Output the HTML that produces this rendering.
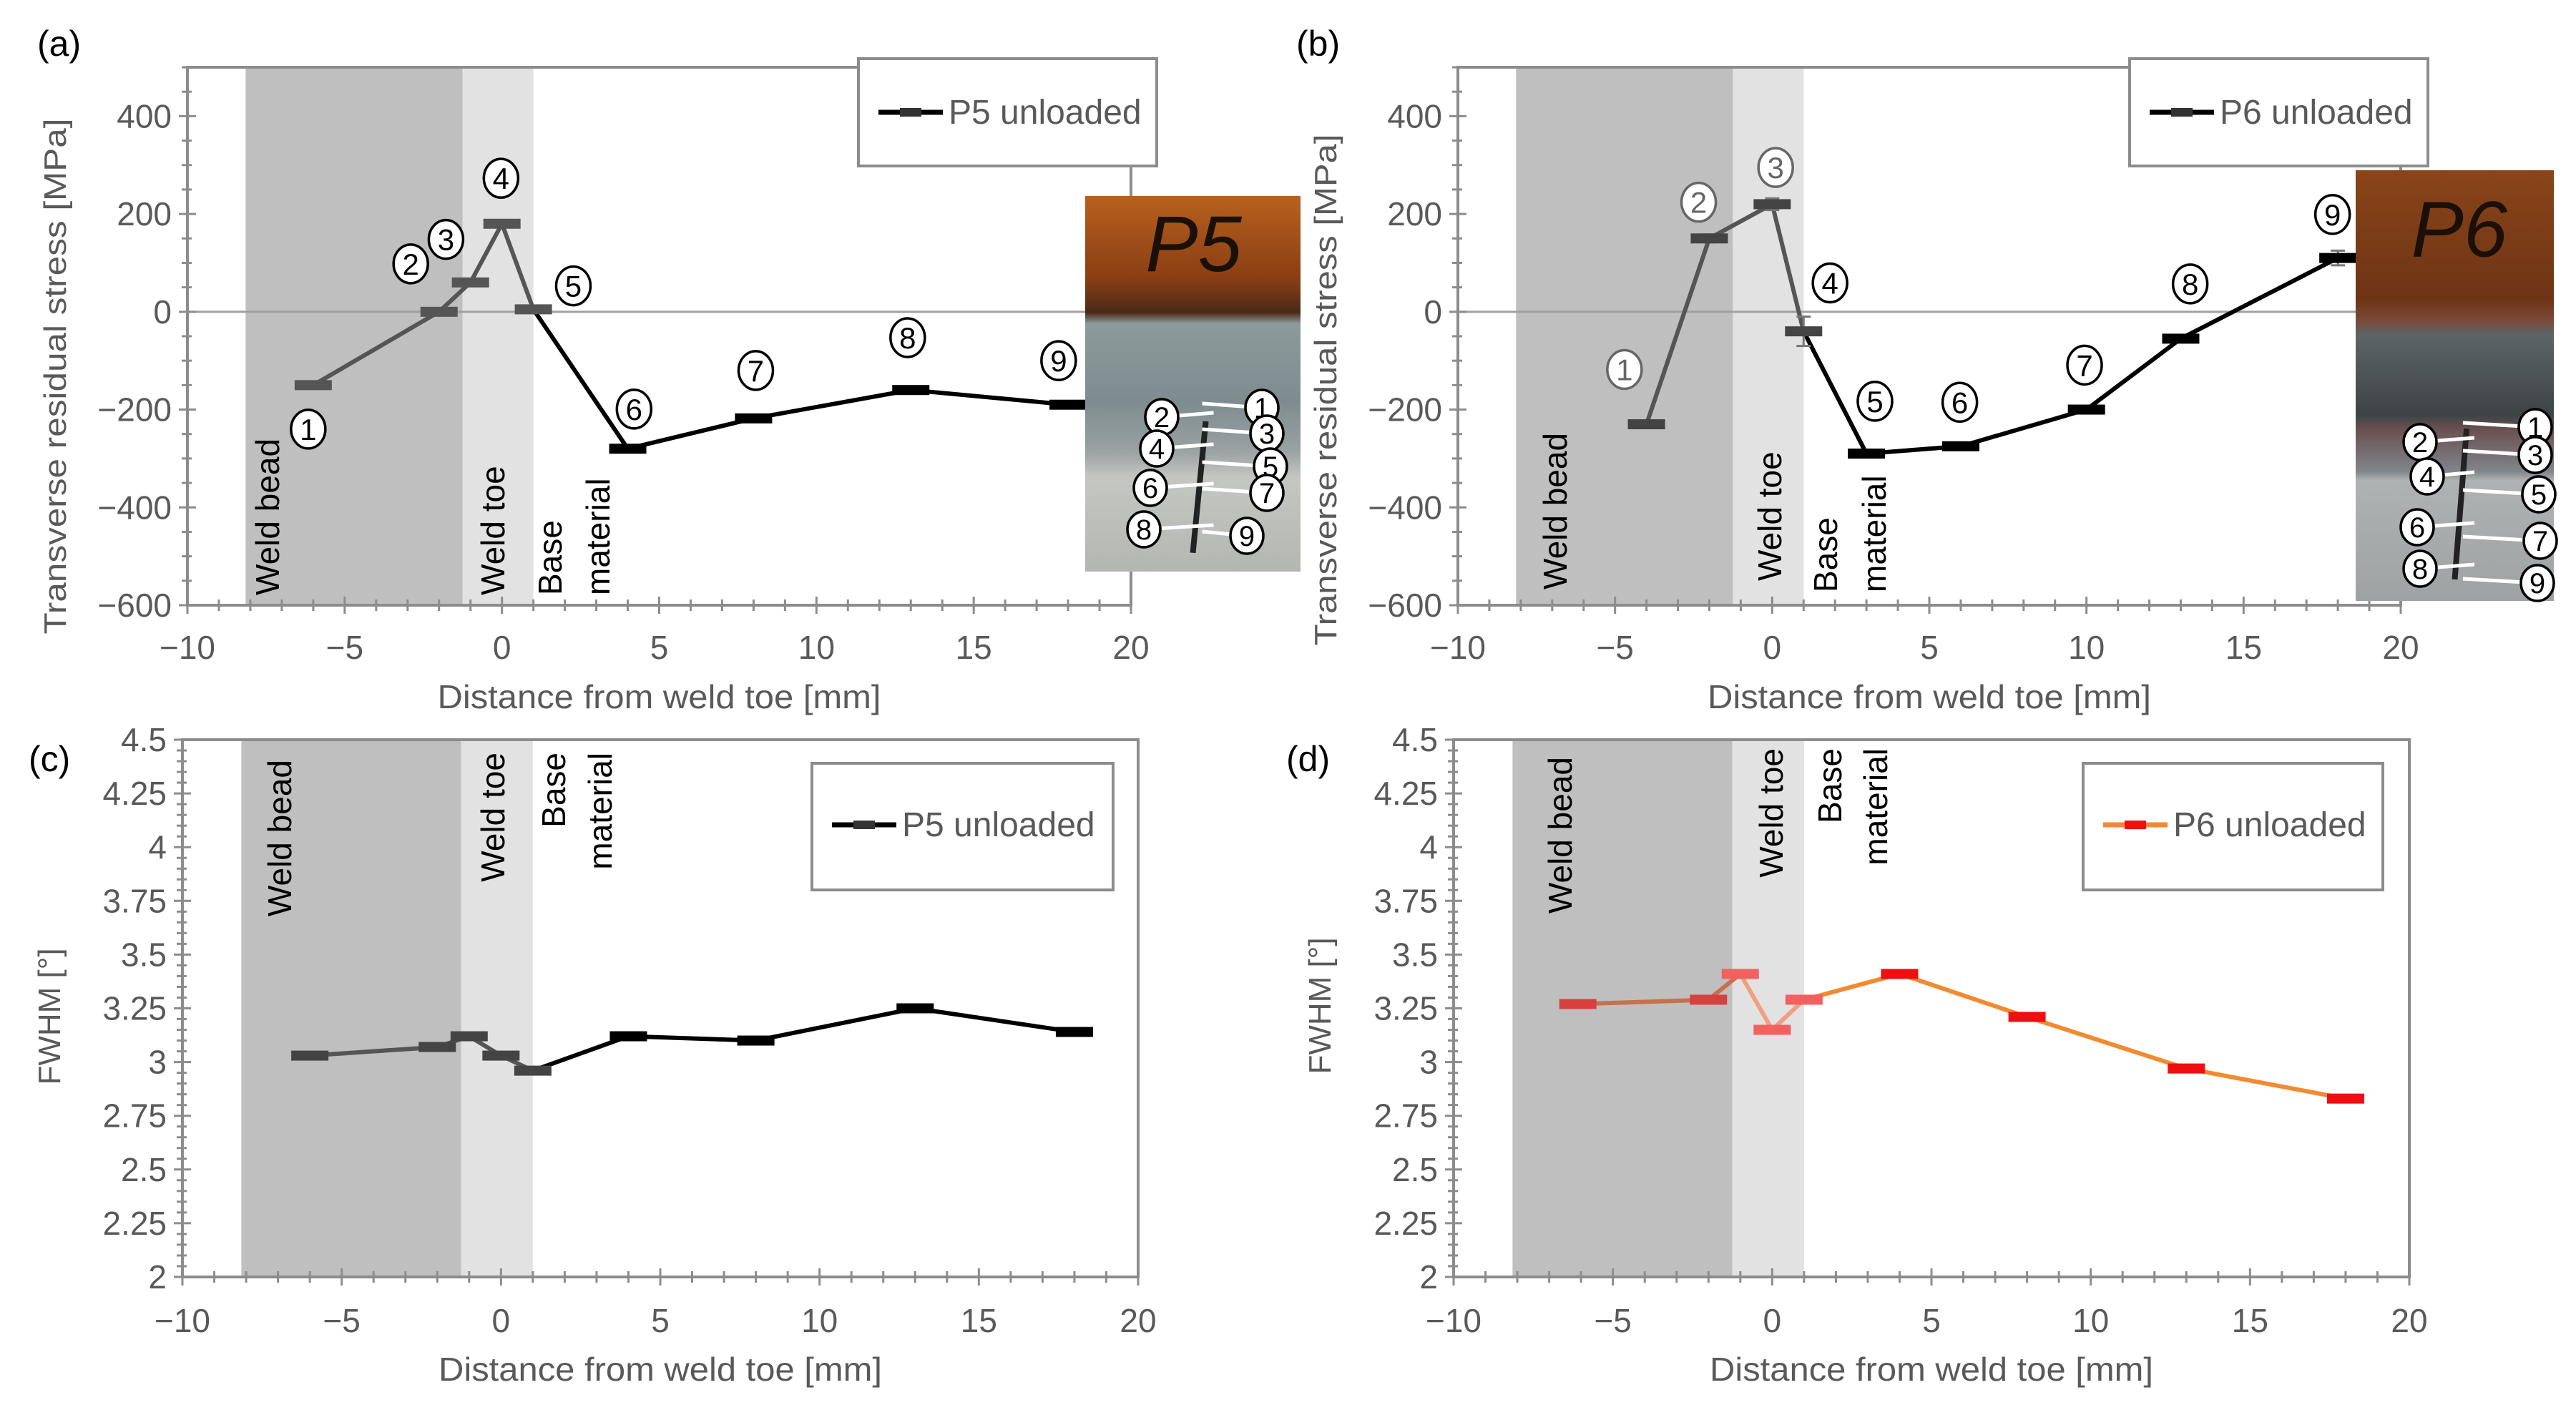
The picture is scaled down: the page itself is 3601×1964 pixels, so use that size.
<!DOCTYPE html>
<html><head><meta charset="utf-8"><style>
html,body{margin:0;padding:0;background:#fff;}
svg{display:block;font-family:"Liberation Sans",sans-serif;}
</style></head><body>
<svg id="fig" width="3601" height="1964" viewBox="0 0 3601 1964" xmlns="http://www.w3.org/2000/svg">
<defs>
<linearGradient id="photoA" x1="0" y1="0" x2="0" y2="1">
<stop offset="0" stop-color="#b8601e"/><stop offset="0.22" stop-color="#8a3e14"/><stop offset="0.31" stop-color="#4a2a18"/>
<stop offset="0.34" stop-color="#8c9a9c"/><stop offset="0.55" stop-color="#7e8c90"/><stop offset="0.68" stop-color="#9aa2a2"/>
<stop offset="0.75" stop-color="#c4c6c2"/><stop offset="1" stop-color="#b4b6b2"/></linearGradient>
<linearGradient id="photoB" x1="0" y1="0" x2="0" y2="1">
<stop offset="0" stop-color="#8a4418"/><stop offset="0.3" stop-color="#6e3416"/><stop offset="0.35" stop-color="#7a4a3a"/>
<stop offset="0.38" stop-color="#5c6466"/><stop offset="0.57" stop-color="#3e4446"/><stop offset="0.6" stop-color="#6a5050"/>
<stop offset="0.7" stop-color="#80868a"/><stop offset="0.72" stop-color="#aeb2b2"/><stop offset="1" stop-color="#9ea2a2"/></linearGradient>
</defs>
</svg>
<script>
// ---- data ----
const aX = [-6, -2, -1, 0, 1, 4, 8, 13, 18];
const aY = [-150, 0, 60, 180, 5, -280, -218, -160, -190];
const bX = [-4, -2, 0, 1, 3, 6, 10, 13, 18];
const bY = [-230, 150, 220, -40, -290, -275, -200, -55, 110];
const bErr = [0, 8, 12, 30, 8, 6, 6, 6, 15];
const cX = [-6, -2, -1, 0, 1, 4, 8, 13, 18];
const cY = [3.03, 3.07, 3.12, 3.03, 2.96, 3.12, 3.10, 3.25, 3.14];
const dX = [-6.1, -2, -1, 0, 1, 4, 8, 13, 18];
const dY = [3.27, 3.29, 3.41, 3.15, 3.29, 3.41, 3.21, 2.97, 2.83];
const xTicks = [-10, -5, 0, 5, 10, 15, 20];
const xTickLabels = ["\u221210", "\u22125", "0", "5", "10", "15", "20"];
const sTicks = [400, 200, 0, -200, -400, -600];
const sTickLabels = ["400", "200", "0", "\u2212200", "\u2212400", "\u2212600"];
const fTicks = [4.5, 4.25, 4, 3.75, 3.5, 3.25, 3, 2.75, 2.5, 2.25, 2];
const fTickLabels = ["4.5", "4.25", "4", "3.75", "3.5", "3.25", "3", "2.75", "2.5", "2.25", "2"];
const aLabelX = [-6.16, -2.9, -1.78, -0.03, 2.27, 4.2, 8.07, 12.9, 17.7];
const aLabelY = [-240, 98, 148, 273, 53, -199, -120, -53, -100];
const bLabelX = [-4.7, -2.34, 0.11, 1.84, 3.27, 5.97, 9.94, 13.3, 17.83];
const bLabelY = [-118, 224, 295, 59, -183, -185, -109, 57, 199];

const NS = "http://www.w3.org/2000/svg";
const svg = document.getElementById('fig');
function mk(tag, attrs, parent, text) {
  const e = document.createElementNS(NS, tag);
  for (const k in attrs) e.setAttribute(k, attrs[k]);
  if (text !== undefined) e.textContent = text;
  (parent || svg).appendChild(e);
  return e;
}
const circ = ["\u2460","\u2461","\u2462","\u2463","\u2464","\u2465","\u2466","\u2467","\u2468"];

function panel(P) {
  const g = mk('g', {});
  
  
  const sx = v => P.x0 + (v - P.xmin) / (P.xmax - P.xmin) * (P.x1 - P.x0);
  const sy = v => P.yB + (v - P.ymin) / (P.ymax - P.ymin) * (P.yT - P.yB);
  // shaded zones
  const z1 = mk('rect', {x: sx(-8.15), y: P.yT, width: sx(-1.25) - sx(-8.15), height: P.yB - P.yT, fill: '#bfbfbf'}, g);
  
  
  const z2 = mk('rect', {x: sx(-1.25), y: P.yT, width: sx(1.0) - sx(-1.25), height: P.yB - P.yT, fill: '#e2e2e2'}, g);
  
  
  // frame
  const fr = mk('rect', {x: P.x0, y: P.yT, width: P.x1 - P.x0, height: P.yB - P.yT, fill: 'none', stroke: '#8c8c8c', 'stroke-width': 4}, g);
  
  
  if (P.zero) {
    const zl = mk('line', {x1: P.x0, x2: P.x1, y1: sy(0), y2: sy(0), stroke: '#a0a0a0', 'stroke-width': 3}, g);
    
    
  }
  // x ticks
  for (let v = P.xmin; v <= P.xmax; v += 1) {
    const major = v % 5 === 0;
    mk('line', {x1: sx(v), x2: sx(v), y1: P.yB - (major ? 12 : 8), y2: P.yB + (major ? 12 : 8), stroke: '#8c8c8c', 'stroke-width': 3}, g);
  }
  xTicks.forEach((v, i) => {
    const t = mk('text', {x: sx(v), y: P.xLabY, 'font-size': 46, fill: '#595959', 'text-anchor': 'middle'}, g, xTickLabels[i]);
    
    
  });
  // y ticks
  const nMinor = Math.round((P.ymax - P.ymin) / P.minor);
  for (let k = 0; k <= nMinor; k++) {
    const v = P.ymin + k * P.minor;
    const major = Math.abs((v - P.ymin) / P.major - Math.round((v - P.ymin) / P.major)) < 1e-6;
    mk('line', {x1: P.x0 - (major ? 12 : 8), x2: P.x0 + (major ? 12 : 6), y1: sy(v), y2: sy(v), stroke: '#8c8c8c', 'stroke-width': 3}, g);
  }
  P.yTicks.forEach((v, i) => {
    const t = mk('text', {x: P.x0 - 22, y: sy(v) + 16, 'font-size': 46, fill: '#595959', 'text-anchor': 'end'}, g, P.yTickLabels[i]);
    
    
  });
  // axis titles
  const xt = mk('text', {x: (P.x0 + P.x1) / 2, y: P.xTitleY, 'font-size': 46, fill: '#595959', 'text-anchor': 'middle', textLength: 620, lengthAdjust: 'spacingAndGlyphs'}, g, 'Distance from weld toe [mm]');
  
  
  const yt = mk('text', {x: 0, y: 0, 'font-size': 44, fill: '#595959', 'text-anchor': 'middle', transform: `translate(${P.yTitleX},${P.yTitleC}) rotate(-90)`}, g, P.yTitle);
  if (P.yTitleLen) { yt.setAttribute('textLength', P.yTitleLen); yt.setAttribute('lengthAdjust', 'spacingAndGlyphs'); }
  
  
  // zone labels
  P.zoneLabels.forEach(zl => {
    const t = mk('text', {x: 0, y: 0, 'font-size': 46, fill: '#000', 'text-anchor': P.anchor, transform: `translate(${zl[1]},${zl[2]}) rotate(-90)`}, g, zl[0]);
    
    
  });
  // series
  const X = P.X, Y = P.Y;
  for (let i = 0; i < X.length - 1; i++) {
    const col = P.segColor(i);
    const seg = mk('line', {x1: sx(X[i]), y1: sy(Y[i]), x2: sx(X[i + 1]), y2: sy(Y[i + 1]), stroke: col, 'stroke-width': 6}, g);
    
    
  }
  for (let i = 0; i < X.length; i++) {
    if (P.err && P.err[i]) {
      const eb = mk('path', {d: `M${sx(X[i])} ${sy(Y[i] + P.err[i])}V${sy(Y[i] - P.err[i])}M${sx(X[i]) - 10} ${sy(Y[i] + P.err[i])}h20M${sx(X[i]) - 10} ${sy(Y[i] - P.err[i])}h20`, stroke: '#777', 'stroke-width': 3, fill: 'none'}, g);
      
      
    }
    const m = mk('rect', {x: sx(X[i]) - 26, y: sy(Y[i]) - 7, width: 52, height: 14, fill: P.markColor(i)}, g);
    
    
  }
  // point labels
  if (P.LX) {
    P.LX.forEach((lx, i) => {
      const c = P.labelColor(i);
      const cg = mk('g', {}, g);
      
      
      mk('ellipse', {cx: sx(lx), cy: sy(P.LY[i]), rx: 24, ry: 27, fill: '#fff', stroke: c, 'stroke-width': 3.5}, cg);
      mk('text', {x: sx(lx), y: sy(P.LY[i]) + 15, 'font-size': 42, fill: c, 'text-anchor': 'middle'}, cg, String(i + 1));
    });
  }
  // legend
  const lg = mk('g', {}, g);
  
  
  mk('rect', {x: P.leg[0], y: P.leg[1], width: P.leg[2], height: P.leg[3], fill: '#fff', stroke: '#8c8c8c', 'stroke-width': 4}, lg);
  const ly = P.leg[1] + P.legDy;
  mk('line', {x1: P.leg[0] + 28, x2: P.leg[0] + 118, y1: ly, y2: ly, stroke: P.legLine, 'stroke-width': 7}, lg);
  mk('rect', {x: P.leg[0] + 58, y: ly - 6, width: 30, height: 12, fill: P.legMark}, lg);
  const lt = mk('text', {x: P.leg[0] + 126, y: ly + 16, 'font-size': 48, fill: '#595959'}, lg, P.legText);
  
  
  // panel letter
  const pl = mk('text', {x: P.letter[1], y: P.letter[2], 'font-size': 50, fill: '#000'}, g, P.letter[0]);
  
  
}

const grey5 = i => i < 4 ? '#555' : '#000';
panel({name: 'panel-a', x0: 262, x1: 1581, yT: 94, yB: 846, xmin: -10, xmax: 20, ymin: -600, ymax: 500,
  major: 200, minor: 50, yTicks: sTicks, yTickLabels: sTickLabels, zero: true,
  xLabY: 921, xTitleY: 990, yTitle: 'Transverse residual stress [MPa]', yTitleX: 92, yTitleC: 526, yTitleLen: 721,
  anchor: 'start', zoneLabels: [['Weld bead', 390, 832], ['Weld toe', 705, 832], ['Base', 785, 832], ['material', 852, 832]],
  X: aX, Y: aY, segColor: grey5, markColor: i => i < 5 ? '#555' : '#000', LX: aLabelX, LY: aLabelY, labelColor: () => '#000',
  leg: [1200, 82, 417, 150], legDy: 75, legLine: '#000', legMark: '#333', legText: 'P5 unloaded', letter: ['(a)', 52, 78]});
panel({name: 'panel-b', x0: 2038, x1: 3356, yT: 94, yB: 846, xmin: -10, xmax: 20, ymin: -600, ymax: 500,
  major: 200, minor: 50, yTicks: sTicks, yTickLabels: sTickLabels, zero: true,
  xLabY: 921, xTitleY: 990, yTitle: 'Transverse residual stress [MPa]', yTitleX: 1868, yTitleC: 545, yTitleLen: 715,
  anchor: 'start', zoneLabels: [['Weld bead', 2190, 824], ['Weld toe', 2490, 812], ['Base', 2568, 828], ['material', 2636, 828]],
  X: bX, Y: bY, err: bErr, segColor: i => i < 3 ? '#555' : '#000', markColor: i => i < 4 ? '#444' : '#000',
  LX: bLabelX, LY: bLabelY, labelColor: i => i < 3 ? '#666' : '#000',
  leg: [2977, 82, 417, 150], legDy: 75, legLine: '#000', legMark: '#333', legText: 'P6 unloaded', letter: ['(b)', 1812, 78]});
panel({name: 'panel-c', x0: 255, x1: 1591, yT: 1034, yB: 1785, xmin: -10, xmax: 20, ymin: 2, ymax: 4.5,
  major: 0.25, minor: 0.05, yTicks: fTicks, yTickLabels: fTickLabels, zero: false,
  xLabY: 1862, xTitleY: 1930, yTitle: 'FWHM [\u00b0]', yTitleX: 84, yTitleC: 1421,
  anchor: 'end', zoneLabels: [['Weld bead', 407, 1062], ['Weld toe', 705, 1052], ['Base', 790, 1052], ['material', 855, 1052]],
  X: cX, Y: cY, segColor: grey5, markColor: i => i < 5 ? '#444' : '#000',
  leg: [1135, 1067, 421, 177], legDy: 86, legLine: '#000', legMark: '#333', legText: 'P5 unloaded', letter: ['(c)', 40, 1078]});
panel({name: 'panel-d', x0: 2032, x1: 3368, yT: 1034, yB: 1785, xmin: -10, xmax: 20, ymin: 2, ymax: 4.5,
  major: 0.25, minor: 0.05, yTicks: fTicks, yTickLabels: fTickLabels, zero: false,
  xLabY: 1862, xTitleY: 1930, yTitle: 'FWHM [\u00b0]', yTitleX: 1860, yTitleC: 1406,
  anchor: 'end', zoneLabels: [['Weld bead', 2197, 1058], ['Weld toe', 2492, 1046], ['Base', 2574, 1046], ['material', 2638, 1046]],
  X: dX, Y: dY, segColor: i => i < 2 ? '#c8704a' : (i < 4 ? '#f0a080' : '#f28a30'),
  markColor: i => i < 2 ? '#d84040' : (i < 5 ? '#f26060' : '#ee1010'),
  leg: [2912, 1067, 419, 177], legDy: 86, legLine: '#f28a30', legMark: '#ee1010', legText: 'P6 unloaded', letter: ['(d)', 1798, 1078]});

// photos
function photo(name, x, y, w, h, fill, labels, text) {
  const g = mk('g', {});
  
  
  mk('rect', {x: x, y: y, width: w, height: h, fill: fill}, g);
  mk('text', {x: x + w * 0.28, y: y + h * 0.2, 'font-size': 110, fill: '#1a1008', 'font-style': 'italic'}, g, text);
  mk('line', {x1: x + w * 0.56, x2: x + w * 0.5, y1: y + h * 0.6, y2: y + h * 0.95, stroke: '#222', 'stroke-width': 8}, g);
  labels.forEach((p, i) => {
    mk('line', {x1: p[0], y1: p[1], x2: x + w * 0.57 + (i % 2 ? 8 : -8), y2: p[1] - 6, stroke: '#fff', 'stroke-width': 5}, g);
  });
  labels.forEach((p, i) => {
    mk('ellipse', {cx: p[0], cy: p[1], rx: 23, ry: 25, fill: '#fff', stroke: '#000', 'stroke-width': 3.5}, g);
    mk('text', {x: p[0], y: p[1] + 14, 'font-size': 40, fill: '#000', 'text-anchor': 'middle'}, g, String(i + 1));
  });
}
photo('photo-p5', 1517, 274, 301, 525, 'url(#photoA)',
  [[1764,570],[1624,583],[1771,606],[1617,627],[1776,652],[1608,682],[1771,689],[1599,740],[1743,749]], 'P5');
photo('photo-p6', 3293, 238, 277, 602, 'url(#photoB)',
  [[3544,597],[3383,618],[3544,636],[3393,666],[3549,691],[3379,737],[3551,756],[3383,795],[3547,815]], 'P6');
</script>
</body></html>
